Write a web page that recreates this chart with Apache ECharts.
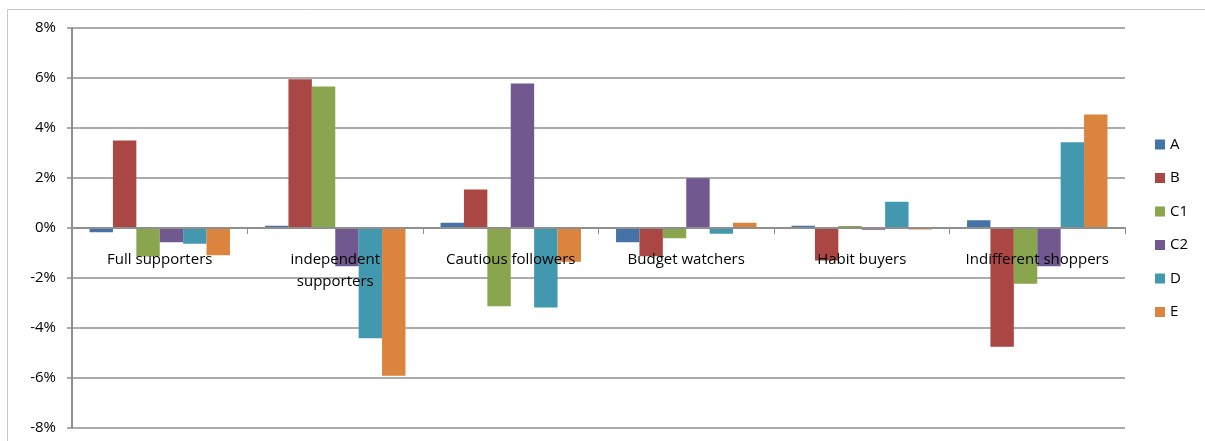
<!DOCTYPE html>
<html>
<head>
<meta charset="utf-8">
<script src="https://cdn.jsdelivr.net/npm/echarts@6/dist/echarts.min.js"></script>
<style>
  html, body { margin: 0; padding: 0; background: #ffffff; }
  #chart { width: 1205px; height: 441px; }
</style>
</head>
<body>
<div id="chart"></div>
<script>
// Segments along the x axis
var categories = ['Full supporters', 'independent\nsupporters', 'Cautious followers', 'Budget watchers', 'Habit buyers', 'Indifferent shoppers'];

// Change per segment, in percent
var seriesA  = [-0.17, 0.09, 0.21, -0.57, 0.09, 0.31];
var seriesB  = [3.50, 5.95, 1.54, -1.13, -1.30, -4.75];
var seriesC1 = [-1.14, 5.66, -3.13, -0.41, 0.08, -2.23];
var seriesC2 = [-0.57, -1.53, 5.78, 1.99, -0.07, -1.53];
var seriesD  = [-0.63, -4.41, -3.18, -0.23, 1.05, 3.43];
var seriesE  = [-1.09, -5.91, -1.35, 0.21, -0.06, 4.54];

var seriesNames = ['A', 'B', 'C1', 'C2', 'D', 'E'];
var seriesData = [seriesA, seriesB, seriesC1, seriesC2, seriesD, seriesE];
var colors = ['#4572A7', '#AA4643', '#89A54E', '#71588F', '#4198AF', '#DB843D'];

var FONT = '"Open Sans", "Liberation Sans", Arial, sans-serif';
var gridColor = '#8f8f8f';

// Plot area: 400px tall from -8% to 8%, so the zero line sits 200px above the bottom edge
var plotTop = 28, plotBottom = 13, plotHeight = 441 - plotTop - plotBottom;

var chart = echarts.init(document.getElementById('chart'), null, { renderer: 'canvas' });

chart.setOption({
  animation: false,
  backgroundColor: '#ffffff',
  color: colors,
  textStyle: { fontFamily: FONT },
  graphic: [{
    type: 'rect',
    shape: { x: 7.5, y: 9.5, width: 1300, height: 500 },
    style: { fill: 'none', stroke: '#c8c8c8', lineWidth: 1 },
    z: -1,
    silent: true
  }],
  grid: { left: 72, right: 80, top: plotTop, bottom: plotBottom, containLabel: false, outerBoundsMode: 'none' },
  legend: {
    orient: 'vertical',
    left: 1155,
    top: 137,
    padding: 0,
    icon: 'rect',
    itemWidth: 10,
    itemHeight: 10,
    itemGap: 18.5,
    textStyle: { fontFamily: FONT, fontSize: 15, color: '#000000' },
    data: seriesNames
  },
  xAxis: {
    type: 'category',
    data: categories,
    boundaryGap: true,
    position: 'bottom',
    offset: -plotHeight / 2,
    z: 10,
    axisLine: { onZero: false, lineStyle: { color: gridColor, width: 2 } },
    axisTick: { show: true, length: 6, alignWithLabel: false, lineStyle: { color: gridColor, width: 1 } },
    axisLabel: {
      interval: 0,
      margin: 21,
      fontFamily: FONT,
      fontSize: 15,
      color: '#000000',
      lineHeight: 22
    },
    splitLine: { show: false }
  },
  yAxis: {
    type: 'value',
    min: -8,
    max: 8,
    interval: 2,
    axisLine: { show: true, lineStyle: { color: gridColor, width: 2 } },
    axisTick: { show: true, length: 5, lineStyle: { color: gridColor, width: 1.5 } },
    axisLabel: {
      formatter: '{value}%',
      margin: 16,
      fontFamily: FONT,
      fontSize: 15,
      color: '#000000'
    },
    splitLine: { show: true, lineStyle: { color: gridColor, width: 1.5 } }
  },
  series: seriesNames.map(function (name, i) {
    return {
      name: name,
      type: 'bar',
      data: seriesData[i],
      barGap: '0%',
      barCategoryGap: '20%',
      itemStyle: { color: colors[i] }
    };
  })
});
</script>
</body>
</html>
